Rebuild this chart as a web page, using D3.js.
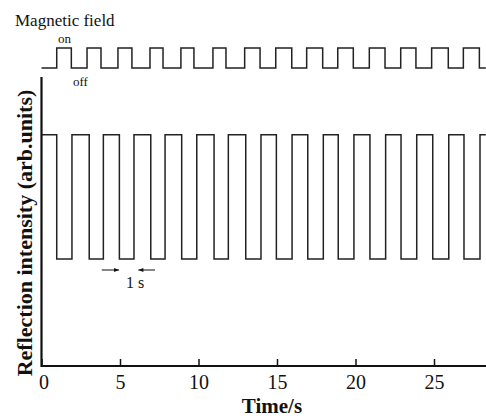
<!DOCTYPE html>
<html>
<head>
<meta charset="utf-8">
<script src="https://cdn.jsdelivr.net/npm/d3@7"></script>
<style>
  body { margin: 0; background: #fff; }
  text { font-family: "Liberation Serif", "Times New Roman", serif; fill: #111; }
</style>
</head>
<body>
<div id="chart"></div>
<script>
// reflection switches (s): drops when the field goes on, recovers when it goes off
const reflDrop = [0.97, 3.04, 4.96, 6.96, 8.93, 10.99, 13.01, 14.96, 16.96, 18.90, 20.92, 22.90, 24.92, 26.91];
const reflRise = [1.94, 3.94, 5.89, 7.87, 9.89, 11.90, 13.98, 15.96, 17.95, 19.90, 21.92, 23.90, 25.94, 27.93];
const reflLevels = [0.8, 0.37]; // high, low (arb. units)

// magnetic field on / off times (s)
const fieldOn = [0.97, 2.90, 4.87, 6.91, 8.88, 10.92, 12.94, 14.92, 16.89, 18.87, 20.88, 22.88, 24.85, 26.87];
const fieldOff = [1.90, 3.79, 5.76, 7.74, 9.71, 11.75, 13.92, 15.94, 17.91, 19.86, 21.88, 23.85, 25.91, 27.89];

const xTicks = [0, 5, 10, 15, 20, 25];
const tEnd = 28.3;

const W = 486, H = 419;
const svg = d3.select("#chart").append("svg").attr("width", W).attr("height", H);

const x = d3.scaleLinear().domain([0, 25]).range([41.5, 434]);
const y = d3.scaleLinear().domain([0, 1]).range([366, 77]);
const yField = d3.scaleLinear().domain([0, 1]).range([68, 48]);

const line = d3.line().x((d) => x(d[0])).y((d) => d[1]);

// reflection trace
let pts = [[0, y(reflLevels[0])]];
reflDrop.forEach((t, i) => {
  pts.push([t, y(reflLevels[0])], [t, y(reflLevels[1])]);
  pts.push([reflRise[i], y(reflLevels[1])], [reflRise[i], y(reflLevels[0])]);
});
pts.push([tEnd, y(reflLevels[0])]);
svg.append("path").attr("d", line(pts))
  .attr("fill", "none").attr("stroke", "#222").attr("stroke-width", 1.5);

// magnetic field trace
let fpts = [[0, yField(0)]];
fieldOn.forEach((t, i) => {
  fpts.push([t, yField(0)], [t, yField(1)]);
  fpts.push([fieldOff[i], yField(1)], [fieldOff[i], yField(0)]);
});
fpts.push([tEnd, yField(0)]);
svg.append("path").attr("d", line(fpts))
  .attr("fill", "none").attr("stroke", "#222").attr("stroke-width", 1.5);

// axes
const xAxis = d3.axisBottom(x).tickValues(xTicks).tickSizeInner(-7).tickSizeOuter(0).tickPadding(9);
const gx = svg.append("g").attr("transform", "translate(0,366)").call(xAxis);
gx.select(".domain").remove();
gx.selectAll(".tick line").attr("stroke", "#111").attr("stroke-width", 1.5);
gx.selectAll(".tick text").attr("font-size", 20).attr("fill", "#111")
  .style("font-family", "'Liberation Serif', 'Times New Roman', serif");
gx.select(".tick text").attr("dx", 2);

svg.append("path")
  .attr("d", `M${x(0)},77V366H${W}`)
  .attr("fill", "none").attr("stroke", "#111").attr("stroke-width", 2.2);

// labels
svg.append("text").attr("x", 15).attr("y", 26).attr("font-size", 17).text("Magnetic field");
svg.append("text").attr("x", 58).attr("y", 43).attr("font-size", 13).text("on");
svg.append("text").attr("x", 73).attr("y", 86).attr("font-size", 13).text("off");

svg.append("text").attr("x", 272).attr("y", 413).attr("text-anchor", "middle")
  .attr("font-size", 21).attr("font-weight", "bold").text("Time/s");
svg.append("text").attr("transform", "translate(32,233) rotate(-90)")
  .attr("text-anchor", "middle").attr("font-size", 22).attr("font-weight", "bold")
  .text("Reflection intensity (arb.units)");

// 1 s marker
const defs = svg.append("defs");
defs.append("marker").attr("id", "ah").attr("viewBox", "0 0 10 10")
  .attr("refX", 10).attr("refY", 5).attr("markerWidth", 6).attr("markerHeight", 5)
  .attr("orient", "auto").append("path").attr("d", "M0,1L10,5L0,9Z").attr("fill", "#111");
const ay = 270;
svg.append("line").attr("x1", x(3.84)).attr("x2", x(4.94)).attr("y1", ay).attr("y2", ay)
  .attr("stroke", "#111").attr("stroke-width", 1).attr("marker-end", "url(#ah)");
svg.append("line").attr("x1", x(7.23)).attr("x2", x(6.17)).attr("y1", ay).attr("y2", ay)
  .attr("stroke", "#111").attr("stroke-width", 1).attr("marker-end", "url(#ah)");
svg.append("text").attr("x", 126).attr("y", 288).attr("font-size", 16).text("1 s");
</script>
</body>
</html>
